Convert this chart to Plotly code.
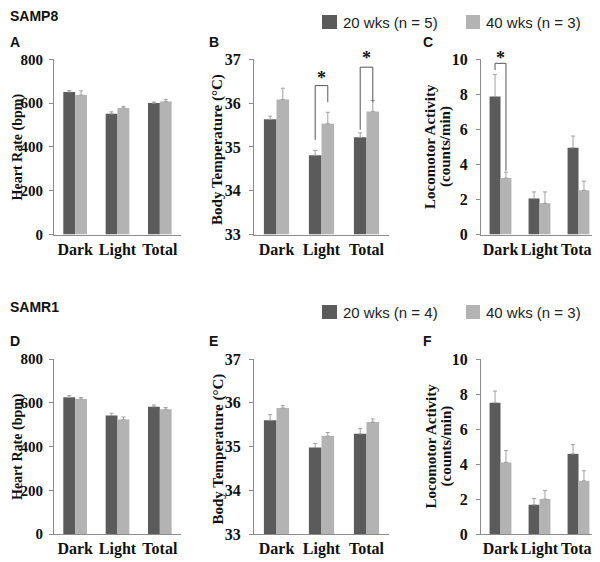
import plotly.graph_objects as go

categories = ["Dark", "Light", "Total"]

# SAMP8 (20 wks n=5, 40 wks n=3)
hr_p8_20 = [651, 551, 600]; hr_p8_20_err = [7, 9, 5]
hr_p8_40 = [637, 578, 607]; hr_p8_40_err = [19, 7, 10]
bt_p8_20 = [35.63, 34.81, 35.22]; bt_p8_20_err = [0.07, 0.11, 0.10]
bt_p8_40 = [36.08, 35.53, 35.81]; bt_p8_40_err = [0.26, 0.26, 0.25]
la_p8_20 = [7.87, 2.05, 4.95]; la_p8_20_err = [1.27, 0.38, 0.67]
la_p8_40 = [3.22, 1.78, 2.52]; la_p8_40_err = [0.34, 0.65, 0.52]

# SAMR1 (20 wks n=4, 40 wks n=3)
hr_r1_20 = [625, 542, 582]; hr_r1_20_err = [8, 10, 8]
hr_r1_40 = [617, 523, 570]; hr_r1_40_err = [7, 12, 8]
bt_r1_20 = [35.60, 34.98, 35.29]; bt_r1_20_err = [0.13, 0.09, 0.12]
bt_r1_40 = [35.88, 35.24, 35.56]; bt_r1_40_err = [0.06, 0.08, 0.07]
la_r1_20 = [7.50, 1.67, 4.58]; la_r1_20_err = [0.67, 0.36, 0.53]
la_r1_40 = [4.09, 2.00, 3.04]; la_r1_40_err = [0.68, 0.49, 0.57]

# significance brackets: (category index, top, left bottom, right bottom, star y)
sig_B = [(1, 36.40, 35.16, 36.02, 36.57), (2, 36.82, 35.39, 36.02, 37.03)]
sig_C = [(0, 9.77, 9.39, 3.64, 10.06)]

# the page has an 8px body margin; layout positions below are window pixels
OFF = 8
W, H = 600, 562
DARK = "#5b5b5b"
LIGHT = "#b3b3b3"
AXC = "#8c8c8c"
SERIF = "Liberation Serif"
SANS = "Liberation Sans"
BARGAP = 0.44

def px(x):
    return (x - OFF) / W

def py(y):
    return 1 - (y - OFF) / H

cols = [(54, 181), (254, 389), (481, 598)]
rows = [(59.3, 234.5), (359, 534)]

panels = [
    (0, 0, hr_p8_20, hr_p8_20_err, hr_p8_40, hr_p8_40_err, [0, 800], 200),
    (0, 1, bt_p8_20, bt_p8_20_err, bt_p8_40, bt_p8_40_err, [33, 37], 1),
    (0, 2, la_p8_20, la_p8_20_err, la_p8_40, la_p8_40_err, [0, 10], 2),
    (1, 0, hr_r1_20, hr_r1_20_err, hr_r1_40, hr_r1_40_err, [0, 800], 200),
    (1, 1, bt_r1_20, bt_r1_20_err, bt_r1_40, bt_r1_40_err, [33, 37], 1),
    (1, 2, la_r1_20, la_r1_20_err, la_r1_40, la_r1_40_err, [0, 10], 2),
]

fig = go.Figure()
layout = dict(
    width=W, height=H, margin=dict(l=0, r=0, t=0, b=0, autoexpand=False),
    paper_bgcolor="white", plot_bgcolor="white",
    showlegend=False, barmode="group", bargap=BARGAP, bargroupgap=0,
)

for i, (r, c, d, de, l, le, rng, dt) in enumerate(panels):
    n = i + 1
    xa = "x" if n == 1 else f"x{n}"
    ya = "y" if n == 1 else f"y{n}"
    base = rng[0]
    for vals, errs, col in ((d, de, DARK), (l, le, LIGHT)):
        fig.add_trace(go.Bar(
            x=categories, y=[v - base for v in vals], base=base,
            marker=dict(color=col, line=dict(width=0)),
            error_y=dict(type="data", symmetric=False, array=errs,
                         arrayminus=[0] * len(errs), color="#a0a0a0",
                         thickness=1, width=2),
            xaxis=xa, yaxis=ya, offsetgroup=col,
        ))
    x0, x1 = cols[c]
    y0, y1 = rows[r]
    layout["xaxis" if n == 1 else f"xaxis{n}"] = dict(
        domain=[px(x0), px(x1)], anchor=ya, type="category",
        range=[-0.5, 2.5], showline=True, linecolor=AXC, linewidth=1,
        ticks="", showgrid=False, zeroline=False, automargin=False,
        tickfont=dict(family=SERIF, size=16, color="#111", weight="bold"),
    )
    layout["yaxis" if n == 1 else f"yaxis{n}"] = dict(
        domain=[py(y1), py(y0)], anchor=xa, range=rng, dtick=dt,
        showline=True, linecolor=AXC, linewidth=1, ticks="outside",
        ticklen=4, tickcolor=AXC, showgrid=False, zeroline=False,
        ticklabelstandoff=3 if c == 0 else 5, automargin=False,
        tickfont=dict(family=SERIF, size=15 if c == 0 else 16, color="#111",
                      weight="bold"),
    )

fig.update_layout(**layout)

annotations = []
shapes = []

def add_text(x, y, text, font, angle=0, xanchor="center"):
    annotations.append(dict(
        x=px(x), y=py(y), xref="paper", yref="paper", text=text,
        showarrow=False, font=font, textangle=angle,
        xanchor=xanchor, yanchor="middle",
    ))

sans_b = dict(family=SANS, size=14, color="#111", weight="bold")
serif_b = dict(family=SERIF, size=15, color="#111", weight="bold")
serif_b14 = dict(family=SERIF, size=14, color="#111", weight="bold")
leg_f = dict(family=SANS, size=15, color="#222")

add_text(8, 16, "SAMP8", sans_b, xanchor="left")
add_text(8, 307, "SAMR1", sans_b, xanchor="left")
for (lx, ly, t) in [(8, 42, "A"), (207, 42, "B"), (421, 42, "C"),
                    (8, 341, "D"), (207, 341, "E"), (421, 341, "F")]:
    add_text(lx, ly, t, sans_b, xanchor="left")

for ly, n20, n40 in [(22, 5, 3), (312, 4, 3)]:
    shapes.append(dict(type="rect", xref="paper", yref="paper",
                       x0=px(322), x1=px(337), y0=py(ly + 7), y1=py(ly - 7),
                       fillcolor=DARK, line=dict(width=0)))
    shapes.append(dict(type="rect", xref="paper", yref="paper",
                       x0=px(466), x1=px(480), y0=py(ly + 7), y1=py(ly - 7),
                       fillcolor=LIGHT, line=dict(width=0)))
    add_text(341, ly, f"20 wks (n = {n20})", leg_f, xanchor="left")
    add_text(484, ly, f"40 wks (n = {n40})", leg_f, xanchor="left")

for r, (y0, y1) in enumerate(rows):
    yc = (y0 + y1) / 2
    add_text(17.5, yc, "Heart Rate (bpm)", serif_b14, angle=-90)
    add_text(218, yc + 3, "Body Temperature (°C)", serif_b, angle=-90)
    add_text(430, yc, "Locomotor Activity", serif_b, angle=-90)
    add_text(446, yc, "(counts/min)", serif_b, angle=-90)

# significance brackets and stars
half = (1 - BARGAP) / 4
for (ax_n, row_i, rng, sigs) in [(2, 0, [33, 37], sig_B), (3, 0, [0, 10], sig_C)]:
    xr, yr = f"x{ax_n}", f"y{ax_n}"
    y0p, y1p = rows[row_i]
    for (ci, top, lb, rb, sy) in sigs:
        xl, xrr = ci - half, ci + half
        path = f"M {xl},{lb} L {xl},{top} L {xrr},{top} L {xrr},{rb}"
        shapes.append(dict(type="path", xref=xr, yref=yr, path=path,
                           line=dict(color="#555", width=1)))
        frac = (sy - rng[0]) / (rng[1] - rng[0])
        star_py = y1p - frac * (y1p - y0p)
        annotations.append(dict(x=ci, y=py(star_py), xref=xr, yref="paper",
                                text="*", showarrow=False, yanchor="middle",
                                font=dict(family=SERIF, size=18, color="#111",
                                          weight="bold")))

fig.update_layout(annotations=annotations, shapes=shapes)
fig.write_html("out.html")
